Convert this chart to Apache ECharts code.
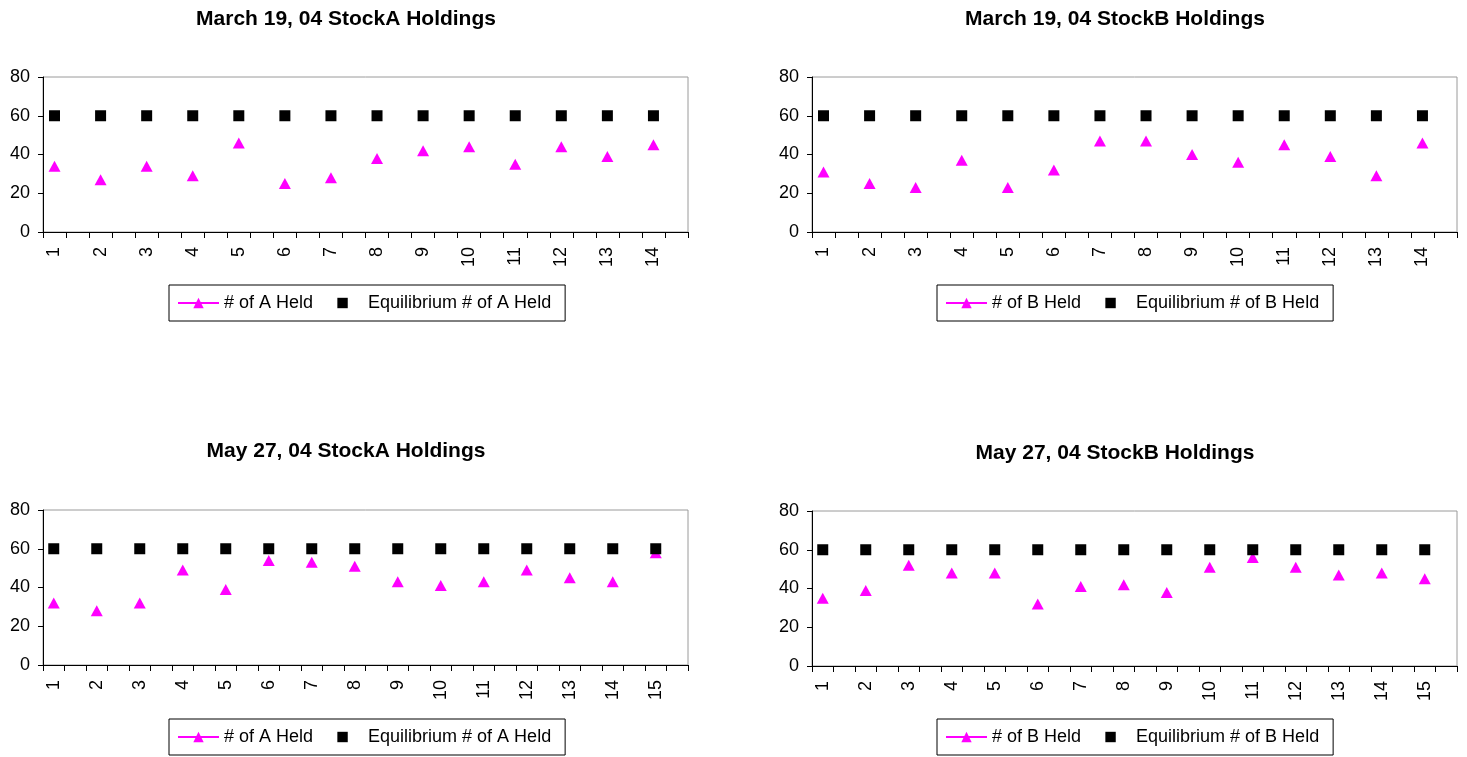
<!DOCTYPE html>
<html>
<head>
<meta charset="utf-8">
<title>StockA / StockB Holdings</title>
<script src="https://cdn.jsdelivr.net/npm/echarts@6/dist/echarts.min.js"></script>
<style>
  html, body { margin: 0; padding: 0; background: #ffffff; }
  #chart { width: 1467px; height: 757px; }
</style>
</head>
<body>
<div id="chart"></div>
<script>
// Sessions: holdings per period, with the equilibrium level for each.
const marchLabels = ['1','2','3','4','5','6','7','8','9','10','11','12','13','14'];
const mayLabels = ['1','2','3','4','5','6','7','8','9','10','11','12','13','14','15'];

const marchHeldA = [34, 27, 34, 29, 46, 25, 28, 38, 42, 44, 35, 44, 39, 45];
const marchEquilA = [60, 60, 60, 60, 60, 60, 60, 60, 60, 60, 60, 60, 60, 60];
const marchHeldB = [31, 25, 23, 37, 23, 32, 47, 47, 40, 36, 45, 39, 29, 46];
const marchEquilB = [60, 60, 60, 60, 60, 60, 60, 60, 60, 60, 60, 60, 60, 60];

const mayHeldA = [32, 28, 32, 49, 39, 54, 53, 51, 43, 41, 43, 49, 45, 43, 58];
const mayEquilA = [60, 60, 60, 60, 60, 60, 60, 60, 60, 60, 60, 60, 60, 60, 60];
const mayHeldB = [35, 39, 52, 48, 48, 32, 41, 42, 38, 51, 56, 51, 47, 48, 45];
const mayEquilB = [60, 60, 60, 60, 60, 60, 60, 60, 60, 60, 60, 60, 60, 60, 60];

const yTicks = { min: 0, max: 80, interval: 20 };

// The worksheet leaves an empty row after each period, so every value is
// followed by a blank category (which also keeps the points unconnected).
function spacedCategories(labels) {
  const out = [];
  labels.forEach(l => { out.push(l); out.push(''); });
  return out;
}
function spacedValues(values) {
  const out = [];
  values.forEach(v => { out.push(v); out.push(null); });
  return out;
}

const FONT = "'Liberation Sans', Arial, Helvetica, sans-serif";
const MAGENTA = '#FF00FF';

const panels = [
  { title: 'March 19, 04 StockA Holdings', labels: marchLabels, held: marchHeldA, equil: marchEquilA,
    heldName: '# of A Held', equilName: 'Equilibrium # of A Held',
    grid: { left: 43, top: 77 }, titleX: 346, titleY: 9, legendX: 169, legendY: 285 },
  { title: 'March 19, 04 StockB Holdings', labels: marchLabels, held: marchHeldB, equil: marchEquilB,
    heldName: '# of B Held', equilName: 'Equilibrium # of B Held',
    grid: { left: 812, top: 77 }, titleX: 1115, titleY: 9, legendX: 937, legendY: 285 },
  { title: 'May 27, 04 StockA Holdings', labels: mayLabels, held: mayHeldA, equil: mayEquilA,
    heldName: '# of A Held', equilName: 'Equilibrium # of A Held',
    grid: { left: 43, top: 510 }, titleX: 346, titleY: 441, legendX: 169, legendY: 719 },
  { title: 'May 27, 04 StockB Holdings', labels: mayLabels, held: mayHeldB, equil: mayEquilB,
    heldName: '# of B Held', equilName: 'Equilibrium # of B Held',
    grid: { left: 812, top: 511 }, titleX: 1115, titleY: 443, legendX: 937, legendY: 719 }
];

const option = {
  animation: false,
  backgroundColor: '#ffffff',
  textStyle: { fontFamily: FONT, color: '#000' },
  title: [], grid: [], xAxis: [], yAxis: [], legend: [], series: []
};

panels.forEach((p, i) => {
  option.title.push({
    text: p.title,
    left: p.titleX, top: p.titleY, textAlign: 'center', padding: 0,
    textStyle: { fontFamily: FONT, fontSize: 21, fontWeight: 'bold', color: '#000' }
  });
  option.grid.push({
    left: p.grid.left, top: p.grid.top, width: 645, height: 155,
    show: true, borderColor: '#9a9a9a', borderWidth: 1, backgroundColor: 'transparent'
  });
  option.xAxis.push({
    type: 'category', gridIndex: i, boundaryGap: true,
    data: spacedCategories(p.labels),
    axisLine: { show: true, lineStyle: { color: '#000', width: 1 } },
    axisTick: { show: true, interval: 0, length: 6, lineStyle: { color: '#000' } },
    axisLabel: { interval: 0, rotate: 90, margin: 15, fontSize: 18, fontFamily: FONT, color: '#000' },
    splitLine: { show: false }
  });
  option.yAxis.push({
    type: 'value', gridIndex: i, min: yTicks.min, max: yTicks.max, interval: yTicks.interval,
    axisLine: { show: true, lineStyle: { color: '#000', width: 1 } },
    axisTick: { show: true, length: 5, lineStyle: { color: '#000' } },
    axisLabel: { margin: 13, fontSize: 18, fontFamily: FONT, color: '#000' },
    splitLine: { show: false }
  });
  option.legend.push({
    left: p.legendX, top: p.legendY,
    data: [p.heldName, p.equilName],
    orient: 'horizontal',
    padding: [9, 14, 9, 8],
    itemGap: 8, itemWidth: 41, itemHeight: 13,
    borderColor: '#000', borderWidth: 1,
    selectedMode: false,
    textStyle: { fontFamily: FONT, fontSize: 18, color: '#000', lineHeight: 18 }
  });
  option.series.push({
    name: p.heldName, type: 'line', xAxisIndex: i, yAxisIndex: i,
    data: spacedValues(p.held), connectNulls: false,
    symbol: 'triangle', symbolSize: [12, 11], showAllSymbol: true,
    itemStyle: { color: MAGENTA },
    lineStyle: { color: MAGENTA, width: 1.5 },
    z: 2
  });
  option.series.push({
    name: p.equilName, type: 'line', xAxisIndex: i, yAxisIndex: i,
    data: spacedValues(p.equil), connectNulls: false,
    symbol: 'rect', symbolSize: 11, showAllSymbol: true,
    itemStyle: { color: '#000' },
    lineStyle: { color: '#000', opacity: 0 },
    z: 3
  });
});

const chart = echarts.init(document.getElementById('chart'), null, { renderer: 'canvas' });
chart.setOption(option);
</script>
</body>
</html>
